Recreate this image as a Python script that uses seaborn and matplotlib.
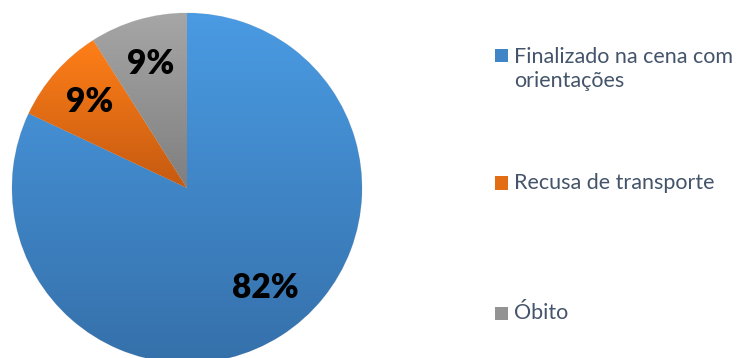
import numpy as np
import matplotlib
matplotlib.use("Agg")
import matplotlib.pyplot as plt
import seaborn as sns
from matplotlib.colors import LinearSegmentedColormap
from matplotlib.patches import Rectangle

sns.set_theme(style="white")
plt.rcParams["font.family"] = ["Lato", "DejaVu Sans"]

# Outcome shares (%)
categories = ["Finalizado na cena com\norientações", "Recusa de transporte", "Óbito"]
shares = [82, 9, 9]
# (top colour, bottom colour) of each slice's vertical gradient
gradients = [("#4A9BE3", "#3570AA"), ("#FF7F18", "#C55A11"), ("#A6A6A6", "#7F7F7F")]

fig = plt.figure(figsize=(7.42, 3.58), dpi=100)
W, H = 742, 358
cx, cy, r = 187, 170, 175
ax = fig.add_axes([(cx - r) / W, (cy - r) / H, 2 * r / W, 2 * r / H])

wedges, texts, autotexts = ax.pie(
    shares, startangle=90, counterclock=False,
    autopct=lambda p: f"{p:.0f}%", pctdistance=0.74,
    wedgeprops=dict(edgecolor="#E8E8E8", linewidth=0.6),
    textprops=dict(fontsize=24, fontweight="heavy", color="black"),
)
ax.set_xlim(-1, 1)
ax.set_ylim(-1, 1)
ax.set_aspect("equal")
ax.axis("off")

# Fill each slice with a vertical gradient clipped to its shape
for w, (top, bot) in zip(wedges, gradients):
    verts = w.get_path().vertices
    verts = w.get_patch_transform().transform(verts)
    x0, x1 = verts[:, 0].min(), verts[:, 0].max()
    y0, y1 = verts[:, 1].min(), verts[:, 1].max()
    cmap = LinearSegmentedColormap.from_list("g", [bot, top])
    grad = np.linspace(1, 0, 256).reshape(-1, 1)
    im = ax.imshow(grad, cmap=cmap, vmin=0, vmax=1, aspect="auto",
                   extent=[x0, x1, y0, y1], zorder=w.get_zorder() + 0.1,
                   interpolation="bilinear")
    im.set_clip_path(w)
for t in autotexts:
    t.set_zorder(5)
# nudge the large label toward the right
autotexts[0].set_position((0.45, -0.57))

# Legend entries
legend_y = [69, 183, 313]
for lab, (top, bot), y in zip(categories, gradients, legend_y):
    sq = 13
    two = "\n" in lab
    sy = H - y - sq / 2 + (14 if two else 0)
    cmap = LinearSegmentedColormap.from_list("g", [bot, top])
    fig.patches.append(Rectangle((495 / W, sy / H), sq / W, sq / H,
                                 transform=fig.transFigure,
                                 facecolor=cmap(0.5), edgecolor="none"))
    fig.text(514 / W, (H - y) / H, lab, fontsize=15.5, color="#44546A",
             va="center", ha="left", linespacing=1.3)

fig.savefig("out.png", dpi=100, facecolor="white")
